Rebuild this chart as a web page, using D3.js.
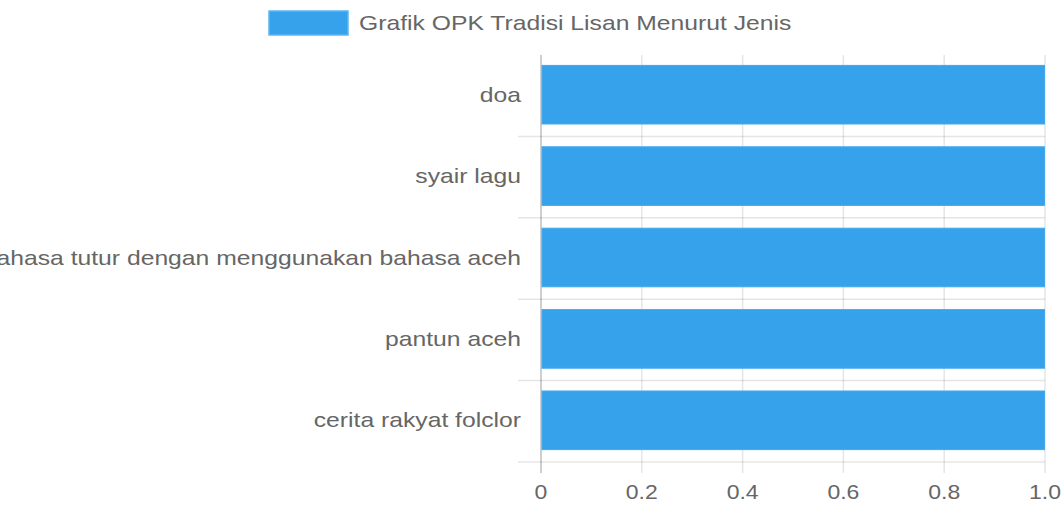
<!DOCTYPE html>
<html><head><meta charset="utf-8">
<script src="https://cdn.jsdelivr.net/npm/d3@7"></script>
<style>body{margin:0;background:#fff;overflow:hidden}svg{display:block}text{font-family:"Liberation Sans",Arial,sans-serif;fill:#666}</style>
</head><body>
<script>
const categories = ["doa","syair lagu","bahasa tutur dengan menggunakan bahasa aceh","pantun aceh","cerita rakyat folclor"];
const values = [1,1,1,1,1];
const seriesName = "Grafik OPK Tradisi Lisan Menurut Jenis";
const xTicks = [0,0.2,0.4,0.6,0.8,1.0];
const xTickLabels = ["0","0.2","0.4","0.6","0.8","1.0"];

const W=1064,H=505;
const m={left:541,right:1045,top:55,bottom:462};
const svg=d3.select("body").append("svg").attr("width",W).attr("height",H);
const x=d3.scaleLinear().domain([0,1]).range([m.left,m.right]);
const y=d3.scaleBand().domain(categories).range([m.top,m.bottom]).paddingInner(0).paddingOuter(0);
const grid="rgba(0,0,0,0.1)";
const sx=1.235;

const bounds=categories.map(c=>y(c)).concat([m.bottom]);
svg.append("g").selectAll("line").data(bounds.slice(1,-1)).join("line")
  .attr("x1",518).attr("x2",m.right).attr("y1",d=>d).attr("y2",d=>d)
  .attr("stroke",grid).attr("stroke-width",1.5);
svg.append("g").selectAll("line").data(xTicks.slice(1)).join("line")
  .attr("x1",d=>x(d)).attr("x2",d=>x(d)).attr("y1",m.top).attr("y2",m.bottom+11)
  .attr("stroke",grid).attr("stroke-width",1.5);
svg.append("line").attr("x1",518).attr("x2",m.right).attr("y1",m.bottom).attr("y2",m.bottom)
  .attr("stroke",grid).attr("stroke-width",1.5);
svg.append("line").attr("x1",x(0)).attr("x2",x(0)).attr("y1",m.top).attr("y2",m.bottom+11)
  .attr("stroke","rgba(0,0,0,0.25)").attr("stroke-width",1.5);

const bh=y.bandwidth()*0.72;
svg.append("g").selectAll("rect").data(categories).join("rect")
  .attr("x",x(0)+1).attr("y",(d)=>y(d)+(y.bandwidth()-bh)/2-1)
  .attr("width",(d,i)=>x(values[i])-x(0)-1.5).attr("height",bh)
  .attr("fill","#36a2eb").attr("stroke","#43a8ed").attr("stroke-width",1);

svg.append("g").selectAll("text").data(categories).join("text")
  .attr("transform",d=>`translate(521,${y(d)+y.bandwidth()/2-1}) scale(${sx},1)`).attr("dy","0.35em")
  .attr("text-anchor","end").attr("font-size",20).text(d=>d);

svg.append("g").selectAll("text").data(xTicks).join("text")
  .attr("transform",d=>`translate(${x(d)},492) scale(1.15,1)`).attr("dy","0.35em")
  .attr("text-anchor","middle").attr("font-size",20).text((d,i)=>xTickLabels[i]);

svg.append("rect").attr("x",269).attr("y",11).attr("width",79).attr("height",24)
  .attr("fill","#36a2eb").attr("stroke","#5fb5ef").attr("stroke-width",1.5);
svg.append("text").attr("transform",`translate(359,23) scale(${sx},1)`).attr("dy","0.35em").attr("font-size",20).text(seriesName);
</script>
</body></html>
